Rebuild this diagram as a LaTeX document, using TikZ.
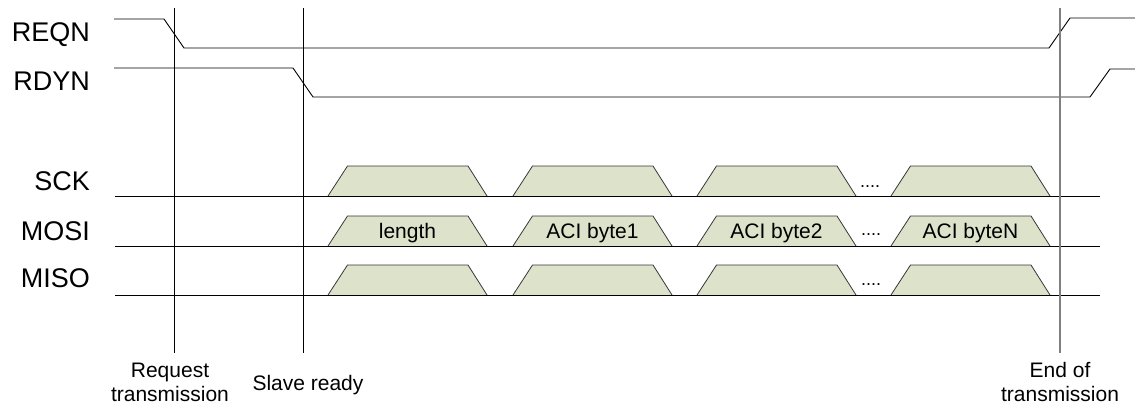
\documentclass[tikz,border=0pt]{standalone}
\usepackage{fontspec}
\setmainfont{Liberation Sans}
\definecolor{trapfill}{RGB}{221,226,203}
\definecolor{trapedge}{RGB}{55,55,55}
\definecolor{endgray}{RGB}{128,128,128}
\begin{document}
\begin{tikzpicture}[x=1pt,y=-1pt,
  sig/.style={line width=0.9pt, black},
  mark line/.style={line width=0.9pt, black},
  trap/.style={line width=0.8pt, draw=trapedge, fill=trapfill},
  siglabel/.style={anchor=base east, inner sep=0pt, font=\fontsize{27}{30}\selectfont},
  traptext/.style={anchor=base, inner sep=0pt, font=\fontsize{21}{24}\selectfont},
  dots/.style={anchor=base, inner sep=0pt, font=\fontsize{18}{22}\selectfont},
  evlabel/.style={align=center, inner sep=0pt, font=\fontsize{21}{24}\selectfont}]
\useasboundingbox (0,0) rectangle (1135,404);

% signal labels
\node[siglabel] (reqn) at (90,42) {REQN};
\node[siglabel] (rdyn) at (90,91) {RDYN};
\node[siglabel] (sck)  at (90,190) {SCK};
\node[siglabel] (mosi) at (90,240) {MOSI};
\node[siglabel] (miso) at (90,287) {MISO};

% REQN and RDYN
\draw[sig] (114,19) -- (164,19) -- (184,48) -- (1049,48) -- (1070,18) -- (1135,18);
\draw[sig] (114,68) -- (293,68) -- (313,97) -- (1090,97) -- (1110,69) -- (1135,69);

% trapezoids
\foreach \b in {196,246,295}{
  \foreach \x in {328,513,697,891}{
    \filldraw[trap] (\x,\b) -- (\x+19.5,\b-30) -- (\x+140,\b-30) -- (\x+159,\b);
  }
  \draw[sig] (115,\b) -- (1100,\b);
}

% texts in MOSI
\node[traptext] (t1) at (407.5,238) {length};
\node[traptext] (t2) at (592.5,238) {ACI byte1};
\node[traptext] (t3) at (776.5,238) {ACI byte2};
\node[traptext] (t4) at (970.5,238) {ACI byteN};

% dots
\node[dots] (d1) at (870,187) {....};
\node[dots] (d2) at (871,235) {....};
\node[dots] (d3) at (871,285) {....};

% event markers
\coordinate (r1) at (174,8);
\coordinate (r2) at (174,353);
\coordinate (s1) at (303,8);
\coordinate (s2) at (303,353);
\coordinate (e1) at (1060,8);
\coordinate (e2) at (1060,353);
\draw[mark line] (r1) -- (r2);
\draw[mark line] (s1) -- (s2);
\draw[line width=1.3pt, endgray] (e1) -- (e2);

\node[evlabel, anchor=base] (req) at (170,401) {Request\\transmission};
\node[evlabel, anchor=base] (slv) at (308,390) {Slave ready};
\node[evlabel, anchor=base] (eot) at (1060,401) {End of\\transmission};
\end{tikzpicture}
\end{document}
